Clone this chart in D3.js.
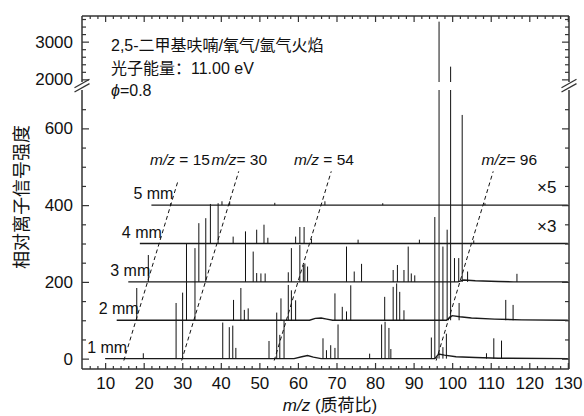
<!DOCTYPE html>
<html>
<head>
<meta charset="utf-8">
<script src="https://cdn.jsdelivr.net/npm/d3@7"></script>
<style>
  body { margin: 0; background: #fff; }
  text { font-family: 'Liberation Sans', Arial, 'Noto Sans CJK SC', sans-serif; fill: #111; }
</style>
</head>
<body>
<div id="chart"></div>
<script>
// traces, stacked by a vertical offset and shifted in m/z (waterfall)
var traceNames = ["1 mm", "2 mm", "3 mm", "4 mm", "5 mm"];
var traceOffsets = [0, 100, 200, 300, 400];
var traceShift = [0, 3, 6, 9, 12];
var traceFactor = ["", "", "", "×3", "×5"];

// peaks [m/z, height] (4 mm and 5 mm already scaled)
var peaks1 = [[19.9,14],[28.4,145],[30.1,172],[40.5,94],[42.2,82],[43.1,86],[43.9,28],
  [52.5,46],[54.5,120],[55.3,62],[56.4,100],[66.5,53],[67.4,22],[68.5,35],[69.6,28],[70.4,89],
  [78.6,13],[81.7,89],[82.6,96],[83.6,80],[84.1,25],[94.6,55],[95.5,369],[96.6,3530],
  [97.6,30],[98.5,65],[108.9,14],[110.8,53],[112.8,47]];
var peaks2 = [[15.2,84],[28.1,201],[30.3,188],[40.3,53],[42.2,84],[43.1,27],[44.1,31],
  [52.6,57],[54.5,92],[55.3,78],[56.4,52],[66.6,70],[68.5,35],[69.6,23],[70.7,91],
  [79.5,61],[81.7,87],[82.6,96],[83.4,74],[84.5,26],[94.6,192],[95.7,236],[96.6,2237],
  [98.8,45],[110.9,53],[112.8,40]];
var peaks3 = [[15.2,70],[28.3,153],[30.1,166],[40.4,131],[42.4,79],[43.3,23],[44.4,22],[45.5,22],
  [51.5,25],[52.3,88],[54.5,96],[55.4,44],[55.8,48],[56.5,40],[66.6,92],[68.6,27],[70.5,47],
  [78.7,31],[79.8,44],[81.5,31],[82.6,92],[83.4,22],[84.3,17],[94.6,62],[95.7,62],[96.6,435],
  [98,27],[110.8,21]];
var peaks4 = [[28.3,103],[30.3,105],[34.2,18],[37.4,31],[40.3,36],[42.2,49],[43.2,15],
  [50.4,18],[51.5,43],[52.6,43],[54.5,12],[66.6,10],[82.5,10],[96.6,8]];
var peaks5 = [[15,5],[28.3,10],[30.3,10],[42,6],[55,10],[70,5],[96.5,5]];

// slow baseline level [m/z, level]
var base1 = [[10,0],[59,0],[61,5],[62.5,8],[64,4],[66,0],[95.5,0],[96.5,12],[98,9],[101,5],[106,3],[112,1],[130,0]];
var base2 = [[10,0],[60,0],[61.5,5],[63,6],[64.5,3],[66,0],[95.5,0],[97,12],[99,9],[102,6],[108,3],[115,1],[127,0]];
var base3 = [[10,0],[95.5,0],[97,5],[100,3],[106,1],[110,0],[124,0]];
var base4 = [[10,0],[121,0]];
var base5 = [[10,0],[118,0]];

var tracePeaks = [peaks1, peaks2, peaks3, peaks4, peaks5];
var traceBase = [base1, base2, base3, base4, base5];

// marked ions: dashed guides
var markedMz = [15, 30, 54, 96];
var markedText = [" = 15", "= 30", " = 54", "= 96"];
var markedTop = [4.65, 4.88, 4.88, 4.88];

var xTicks = [10, 20, 30, 40, 50, 60, 70, 80, 90, 100, 110, 120, 130];
var yTicksLow = [0, 200, 400, 600];
var yTicksHigh = [2000, 3000];

var svg = d3.select("#chart").append("svg")
  .attr("width", 584)
  .attr("height", 416);

var plotLeft = 82, plotRight = 569, plotTop = 16, plotBottom = 369;
var breakLow = 90, breakHigh = 82;

var x = d3.scaleLinear().domain([4, 130.3]).range([plotLeft, plotRight]);
var yLow = d3.scaleLinear().domain([-27, 700]).range([plotBottom, breakLow]);
var yHigh = d3.scaleLinear().domain([1930, 3680]).range([breakHigh, plotTop]);

// spectra
var specGroup = svg.append("g");

tracePeaks.forEach(function(pk, i) {
  var off = traceOffsets[i], sh = traceShift[i];
  var line = d3.line()
    .x(d => x(d[0] + sh))
    .y(d => yLow(off + d[1]));

  specGroup.append("path")
    .attr("d", line(traceBase[i]))
    .attr("fill", "none")
    .attr("stroke", "#1a1a1a")
    .attr("stroke-width", 1.4);

  var segs = [];
  pk.forEach(function(p) {
    var v = off + p[1];
    segs.push([p[0] + sh, yLow(off), yLow(Math.min(v, 700))]);
    if (v > 1930) segs.push([p[0] + sh, yHigh(1930), yHigh(v)]);
  });

  specGroup.selectAll(null)
    .data(segs)
    .enter()
    .append("line")
    .attr("x1", d => x(d[0]))
    .attr("x2", d => x(d[0]))
    .attr("y1", d => d[1])
    .attr("y2", d => d[2])
    .attr("stroke", "#111")
    .attr("stroke-width", 1);

  // trace labels
  svg.append("text")
    .attr("x", x(10 + sh) - 18)
    .attr("y", yLow(off) - 6)
    .attr("font-size", 16)
    .text(traceNames[i]);

  if (traceFactor[i]) {
    svg.append("text")
      .attr("x", 537)
      .attr("y", yLow(off) - 12)
      .attr("font-size", 17)
      .text(traceFactor[i]);
  }
});

// dashed guides for marked ions
svg.selectAll(".guide")
  .data(markedMz)
  .enter()
  .append("line")
  .attr("class", "guide")
  .attr("x1", d => x(d - 0.15))
  .attr("y1", yLow(-5))
  .attr("x2", (d, i) => x(d + 3 * markedTop[i]))
  .attr("y2", (d, i) => yLow(100 * markedTop[i]))
  .attr("stroke", "#111")
  .attr("stroke-width", 1)
  .attr("stroke-dasharray", "4,3");

var labelX = [150, 211.5, 294, 481.5];
markedMz.forEach(function(m, i) {
  var t = svg.append("text")
    .attr("x", labelX[i])
    .attr("y", 165)
    .attr("font-size", 15.5);
  t.append("tspan").attr("font-style", "italic").text("m/z");
  t.append("tspan").text(markedText[i]);
});

// axes: ticks point inward
function noDomain(g) { g.select(".domain").remove(); }
var minorX = d3.range(6, 131, 2).filter(d => d % 10 != 0);
var fmt = d3.format("d");

svg.append("g").attr("transform", `translate(0,${plotBottom})`)
  .call(d3.axisBottom(x).tickValues(xTicks).tickSize(-6).tickPadding(8).tickFormat(fmt))
  .call(noDomain);
svg.append("g").attr("transform", `translate(0,${plotBottom})`)
  .call(d3.axisBottom(x).tickValues(minorX).tickSize(-3).tickFormat(""))
  .call(noDomain);
svg.append("g").attr("transform", `translate(0,${plotTop})`)
  .call(d3.axisTop(x).tickValues(xTicks).tickSize(-6).tickFormat(""))
  .call(noDomain);
svg.append("g").attr("transform", `translate(0,${plotTop})`)
  .call(d3.axisTop(x).tickValues(minorX).tickSize(-3).tickFormat(""))
  .call(noDomain);

var minorLow = d3.range(50, 700, 50).filter(d => d % 200 != 0);
var minorHigh = [2200, 2400, 2600, 2800, 3200, 3400, 3600];

[[yLow, yTicksLow, minorLow], [yHigh, yTicksHigh, minorHigh]].forEach(function(a) {
  svg.append("g").attr("transform", `translate(${plotLeft},0)`)
    .call(d3.axisLeft(a[0]).tickValues(a[1]).tickSize(-7).tickPadding(9).tickFormat(fmt))
    .call(noDomain);
  svg.append("g").attr("transform", `translate(${plotLeft},0)`)
    .call(d3.axisLeft(a[0]).tickValues(a[2]).tickSize(-4).tickFormat(""))
    .call(noDomain);
  svg.append("g").attr("transform", `translate(${plotRight},0)`)
    .call(d3.axisRight(a[0]).tickValues(a[1]).tickSize(-7).tickFormat(""))
    .call(noDomain);
  svg.append("g").attr("transform", `translate(${plotRight},0)`)
    .call(d3.axisRight(a[0]).tickValues(a[2]).tickSize(-4).tickFormat(""))
    .call(noDomain);
});

svg.selectAll(".tick text").attr("font-size", 17).attr("fill", "#111");
svg.selectAll(".tick line").attr("stroke", "#333").attr("stroke-width", 1.2);

// frame with broken y axis
var frame = [
  [plotLeft, plotBottom, plotRight, plotBottom], [plotLeft, plotTop, plotRight, plotTop],
  [plotLeft, plotBottom, plotLeft, breakLow], [plotLeft, breakHigh, plotLeft, plotTop],
  [plotRight, plotBottom, plotRight, breakLow], [plotRight, breakHigh, plotRight, plotTop]
];
svg.selectAll(".frame")
  .data(frame)
  .enter()
  .append("line")
  .attr("x1", d => d[0]).attr("y1", d => d[1])
  .attr("x2", d => d[2]).attr("y2", d => d[3])
  .attr("stroke", "#333")
  .attr("stroke-width", 1.5);

[plotLeft, plotRight].forEach(function(xx) {
  [83.5, 87.8].forEach(function(yy) {
    svg.append("line")
      .attr("x1", xx - 7.5).attr("y1", yy + 4.2)
      .attr("x2", xx + 7.5).attr("y2", yy - 4.2)
      .attr("stroke", "#333")
      .attr("stroke-width", 1.3);
  });
});

// annotation
svg.append("text").attr("x", 111).attr("y", 51).attr("font-size", 16)
  .text("2,5-二甲基呋喃/氧气/氩气火焰");
svg.append("text").attr("x", 111).attr("y", 73.5).attr("font-size", 16)
  .text("光子能量：11.00 eV");
var phi = svg.append("text").attr("x", 111).attr("y", 96).attr("font-size", 16);
phi.append("tspan").attr("font-style", "italic").text("ϕ");
phi.append("tspan").text("=0.8");

// axis titles
var xt = svg.append("text")
  .attr("x", 330)
  .attr("y", 411)
  .attr("text-anchor", "middle")
  .attr("font-size", 17);
xt.append("tspan").attr("font-style", "italic").text("m/z");
xt.append("tspan").text(" (质荷比)");

svg.append("text")
  .attr("transform", "translate(28,197) rotate(-90)")
  .attr("text-anchor", "middle")
  .attr("font-size", 18)
  .text("相对离子信号强度");
</script>
</body>
</html>
